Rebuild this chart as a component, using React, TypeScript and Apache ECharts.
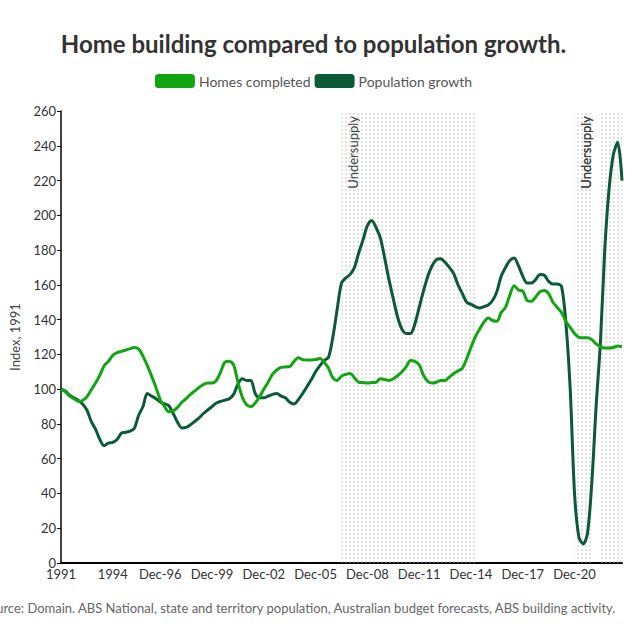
import React, { useEffect, useRef } from "react";
import * as echarts from "echarts";

// Quarterly categories, Mar-91 .. Sep-23
const quarterMonths = ["Mar", "Jun", "Sep", "Dec"];
const firstYear = 1991;
const quarterCount = 131;
const categories: string[] = [];
for (let i = 0; i < quarterCount; i++) {
  const y = firstYear + Math.floor(i / 4);
  categories.push(quarterMonths[i % 4] + "-" + String(y % 100).padStart(2, "0"));
}

const tickIndex = [0, 12, 23, 35, 47, 59, 71, 83, 95, 107, 119];
const tickText = ["1991", "1994", "Dec-96", "Dec-99", "Dec-02", "Dec-05", "Dec-08", "Dec-11", "Dec-14", "Dec-17", "Dec-20"];

const homesCompleted = [
  100, 98.5, 96, 94.5, 93, 93.5, 95.6, 99.5, 103.5, 108,
  113.5, 116, 119.5, 121, 121.7, 122.5, 123.3, 124, 123, 119,
  113.5, 107.5, 101, 93.8, 90, 87, 87.5, 89.5, 92.5, 94.5,
  97, 99, 101, 102.7, 103.6, 103.6, 105, 110, 115.6, 116,
  114, 104, 95.5, 91, 90, 92, 95.6, 100, 104, 108.5,
  111, 112.5, 112.8, 113, 116, 118, 117, 116.8, 116.8, 117,
  117.7, 115.5, 112, 106.5, 105, 107.5, 108.5, 109, 106.5, 104,
  103.8, 103.6, 103.8, 104, 106, 105.5, 105, 106, 107.7, 110,
  113, 116.5, 116, 114, 108, 104.5, 103.5, 104, 105, 105,
  107, 109, 110.5, 112, 117.5, 124, 130, 134.5, 138.5, 141,
  139.5, 139, 144, 147, 154, 159.5, 157, 156.5, 151, 150.5,
  153, 156, 156.8, 155, 150, 147, 144, 139, 135.5, 132,
  129.8, 129.5, 129.5, 128.5, 126, 124.5, 123.7, 123.7, 124, 124.8,
  124.5,
];

const populationGrowth = [
  100, 99, 96.5, 95, 93.5, 91.5, 88, 81.5, 77, 71,
  67.5, 69, 69.4, 71, 74.7, 75.2, 75.8, 77.5, 85, 90,
  97.5, 96, 94.5, 92.6, 91.5, 90.5, 86, 81, 77.7, 78,
  79.5, 81.5, 83.5, 86, 88, 90, 92, 93, 93.7, 94.5,
  97, 103, 106, 105, 105, 97.5, 95, 95, 96, 97,
  97.5, 96, 95, 92.5, 91.5, 94, 97.5, 101.5, 105.5, 110,
  113.5, 116.5, 118.4, 130, 146, 161, 164, 166, 170, 178.5,
  186, 194, 197, 193, 187, 175.5, 163, 152, 141.5, 134.5,
  132, 132, 137.5, 147, 156.5, 165, 171, 174.5, 175, 173,
  170, 166.5, 160, 155, 150, 148.8, 147.5, 146.7, 147.5, 148.4,
  151, 156, 165, 170, 174, 175.5, 171, 165, 161, 161,
  163, 166, 165.5, 162, 160.5, 160.5, 159, 138, 100, 40,
  15, 11, 17, 46, 90, 127, 180, 215, 235, 242,
  220,
];

// Undersupply periods (category index ranges)
const undersupplyStart = [65, 119, 125];
const undersupplyEnd = [96, 123, 130];

const FONT = "Lato, 'Noto Sans', sans-serif";

const dotPattern = {
  image:
    "data:image/svg+xml;utf8," +
    encodeURIComponent(
      "<svg xmlns='http://www.w3.org/2000/svg' width='4' height='4'><circle cx='2' cy='2' r='0.8' fill='#bdbdbd'/></svg>"
    ),
  repeat: "repeat",
  imageWidth: 4,
  imageHeight: 4,
};

export default function App() {
  const ref = useRef<HTMLDivElement>(null);
  useEffect(() => {
    if (!ref.current) return;
    const chart = echarts.init(ref.current, null, { renderer: "svg" });
    const areas = undersupplyStart.map((s, k) => {
      const label: any = {
        show: true,
        formatter: "Undersupply",
        position: "insideTopLeft",
        distance: 5,
        rotate: 90,
        align: "right",
        verticalAlign: "top",
        color: "#444",
        fontSize: 13,
        fontFamily: FONT,
      };
      if (k === 2) label.offset = [0, -26];
      return [
        { xAxis: categories[s], label, itemStyle: { color: dotPattern } },
        { xAxis: categories[undersupplyEnd[k]] },
      ];
    });
    chart.setOption({
      animation: false,
      textStyle: { fontFamily: FONT },
      title: {
        text: "Home building compared to population growth.",
        left: "center",
        top: 26,
        textStyle: { fontFamily: FONT, fontSize: 24, fontWeight: "bold", color: "#333" },
      },
      legend: {
        top: 69,
        left: "center",
        icon: "roundRect",
        itemWidth: 40,
        itemHeight: 14,
        itemGap: 4,
        textStyle: { fontFamily: FONT, fontSize: 14, color: "#555", padding: [0, 0, 0, -1] },
        data: ["Homes completed", "Population growth"],
      },
      grid: { left: 57, right: 5, top: 111, bottom: 63, containLabel: false },
      xAxis: {
        type: "category",
        data: categories,
        boundaryGap: false,
        axisLine: { lineStyle: { color: "#000", width: 2 } },
        axisTick: { show: false },
        axisLabel: {
          interval: (i: number) => tickIndex.indexOf(i) >= 0,
          formatter: (_v: string, i: number) => tickText[tickIndex.indexOf(i)] ?? "",
          color: "#333",
          fontSize: 13,
          fontFamily: FONT,
          margin: 4,
          hideOverlap: false,
        },
        splitLine: { show: false },
      },
      yAxis: {
        type: "value",
        min: 0,
        max: 260,
        interval: 20,
        name: "Index, 1991",
        nameLocation: "middle",
        nameGap: 40,
        nameTextStyle: { fontFamily: FONT, fontSize: 13, color: "#444" },
        axisLine: { show: true, lineStyle: { color: "#000", width: 1.5 } },
        axisTick: { show: true, length: 4, lineStyle: { color: "#000" } },
        axisLabel: { color: "#333", fontSize: 13, fontFamily: FONT, margin: 5 },
        splitLine: { show: false },
      },
      series: [
        {
          name: "Homes completed",
          type: "line",
          data: homesCompleted,
          smooth: 0.3,
          showSymbol: false,
          color: "#11a611",
          lineStyle: { width: 3, color: "#11a611" },
          z: 3,
          markArea: { silent: true, data: areas },
        },
        {
          name: "Population growth",
          type: "line",
          data: populationGrowth,
          smooth: 0.3,
          showSymbol: false,
          color: "#0b5a37",
          lineStyle: { width: 3, color: "#0b5a37" },
          z: 2,
        },
      ],
      graphic: [
        {
          type: "text",
          right: 10,
          top: 601,
          style: {
            text: "Source: Domain. ABS National, state and territory population, Australian budget forecasts, ABS building activity.",
            fill: "#666",
            fontSize: 13,
            fontFamily: FONT,
            align: "right",
          },
        },
      ],
    });
    return () => chart.dispose();
  }, []);
  return <div ref={ref} style={{ position: "fixed", left: 0, top: 0, width: 627, height: 626, background: "#fff" }} />;
}
